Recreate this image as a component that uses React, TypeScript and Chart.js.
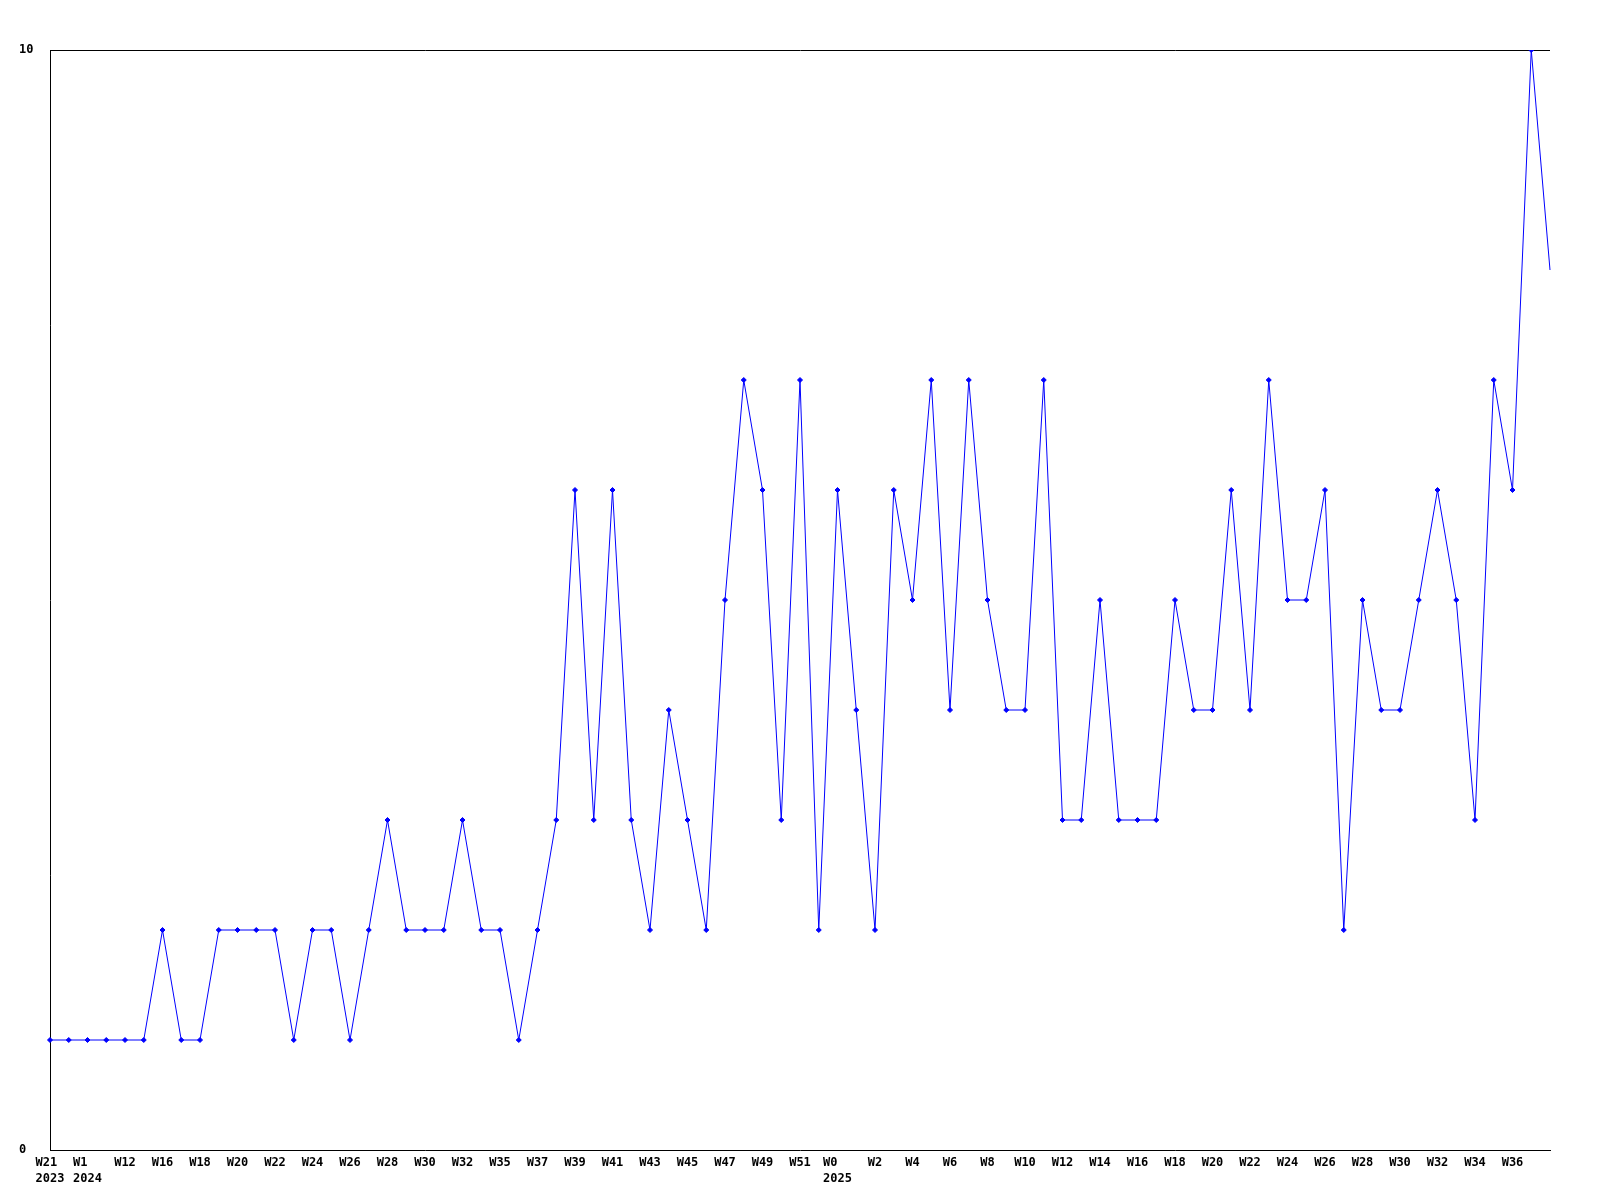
import React, { useEffect, useRef } from "react";
import { Chart, registerables } from "chart.js";

Chart.register(...registerables);

const weekLabels: string[] = [
  "W21", "W52", "W1", "W8", "W12", "W14", "W16", "W17", "W18", "W19",
  "W20", "W21", "W22", "W23", "W24", "W25", "W26", "W27", "W28", "W29",
  "W30", "W31", "W32", "W34", "W35", "W36", "W37", "W38", "W39", "W40",
  "W41", "W42", "W43", "W44", "W45", "W46", "W47", "W48", "W49", "W50",
  "W51", "W52", "W0", "W1", "W2", "W3", "W4", "W5", "W6", "W7",
  "W8", "W9", "W10", "W11", "W12", "W13", "W14", "W15", "W16", "W17",
  "W18", "W19", "W20", "W21", "W22", "W23", "W24", "W25", "W26", "W27",
  "W28", "W29", "W30", "W31", "W32", "W33", "W34", "W35", "W36", "W37",
  "W38",
];

const yearLabels: Record<number, string> = { 0: "2023", 2: "2024", 42: "2025" };

const values: number[] = [
  1, 1, 1, 1, 1, 1, 2, 1, 1, 2,
  2, 2, 2, 1, 2, 2, 1, 2, 3, 2,
  2, 2, 3, 2, 2, 1, 2, 3, 6, 3,
  6, 3, 2, 4, 3, 2, 5, 7, 6, 3,
  7, 2, 6, 4, 2, 6, 5, 7, 4, 7,
  5, 4, 4, 7, 3, 3, 5, 3, 3, 3,
  5, 4, 4, 6, 4, 7, 5, 5, 6, 2,
  5, 4, 4, 5, 6, 5, 3, 7, 6, 10,
  8,
];

const yMin = 0;
const yMax = 10;

export default function App() {
  const ref = useRef<HTMLCanvasElement | null>(null);

  useEffect(() => {
    if (!ref.current) return;
    const labels = weekLabels.map((w, i) => {
      const y = yearLabels[i];
      if (y) {
        const n = Math.max(w.length, y.length);
        return [w.padEnd(n, " "), y.padEnd(n, " ")];
      }
      return w;
    });
    const last = values.length - 1;
    const font = { family: "'DejaVu Sans Mono', monospace", size: 12, weight: "bold" as const, lineHeight: 1.3 };
    const chart = new Chart(ref.current, {
      type: "line",
      data: {
        labels,
        datasets: [
          {
            data: values,
            borderColor: "#0000ff",
            backgroundColor: "#0000ff",
            borderWidth: 1,
            tension: 0,
            pointStyle: "rectRot",
            pointRadius: values.map((_, i) => (i === last ? 0 : 2.5)),
            pointBorderWidth: 1,
            pointBackgroundColor: "#0000ff",
            pointBorderColor: "#0000ff",
          },
        ],
      },
      options: {
        responsive: false,
        animation: false,
        maintainAspectRatio: false,
        layout: { padding: { left: 19, top: 50, right: 50, bottom: 0 } },
        plugins: { legend: { display: false }, tooltip: { enabled: false } },
        scales: {
          x: {
            type: "category",
            offset: false,
            grid: { display: false, drawTicks: false },
            border: { display: true, color: "#000000", width: 1 },
            ticks: {
              autoSkip: false,
              maxRotation: 0,
              minRotation: 0,
              padding: 5,
              color: "#000000",
              font,
              callback: function (this: any, _v: any, index: number) {
                if (index % 2 !== 0 || index === last) return "";
                return labels[index] as any;
              },
            },
            afterFit: (scale: any) => {
              scale.height = 50;
            },
          },
          y: {
            min: yMin,
            max: yMax,
            grid: {
              display: true,
              drawTicks: false,
              color: (ctx: any) => (ctx.tick && ctx.tick.value === yMax ? "#000000" : "rgba(0,0,0,0)"),
              lineWidth: 1,
            },
            border: { display: true, color: "#000000", width: 1 },
            ticks: {
              stepSize: 10,
              crossAlign: "far",
              padding: 0,
              color: "#000000",
              font: { family: "'DejaVu Sans Mono', monospace", size: 12, weight: "bold" as const },
            },
            afterFit: (scale: any) => {
              scale.width = 31;
            },
          },
        },
      },
    });
    return () => chart.destroy();
  }, []);

  return (
    <div style={{ position: "absolute", left: 0, top: 0, width: 1600, height: 1200, background: "#ffffff" }}>
      <canvas ref={ref} width={1600} height={1200} style={{ width: 1600, height: 1200 }} />
    </div>
  );
}
